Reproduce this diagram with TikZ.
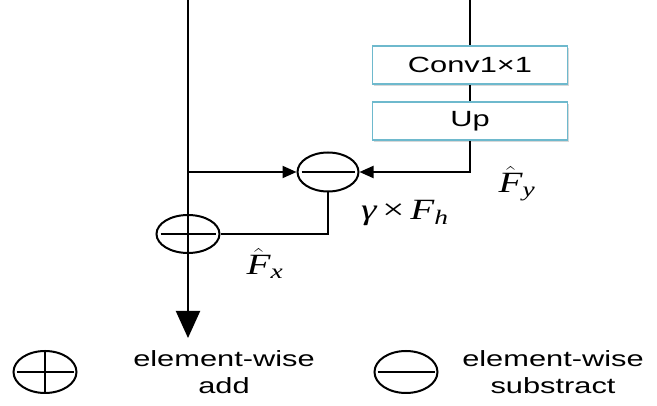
\documentclass[tikz,border=0pt]{standalone}
\usepackage{amsmath}
\usepackage{fontspec}
\setsansfont{Liberation Sans}
\newfontfamily\tmsfont{Liberation Serif}
\newcommand{\myit}[1]{\text{\tmsfont\itshape #1}}
\newcommand{\myup}[1]{\text{\tmsfont #1}}
\usetikzlibrary{arrows.meta,shapes.geometric,shadows}
\definecolor{boxline}{RGB}{110,185,205}
\tikzset{
  conn/.style={line width=2pt, draw=black},
  smallarr/.style={-{Triangle[length=14pt,width=12pt]}},
  bigarr/.style={-{Triangle[length=27pt,width=24pt]}},
  opbox/.style={draw=boxline, line width=1.8pt, fill=white, minimum width=195pt, minimum height=38pt,
     inner sep=0pt, font=\sffamily\fontsize{22}{24}\selectfont,
     drop shadow={shadow xshift=1.5pt, shadow yshift=-2.5pt, fill=black!30}},
  opnode/.style={ellipse, draw, line width=2pt, fill=white, inner sep=0pt},
  legtxt/.style={font=\sffamily\fontsize{22}{27}\selectfont, align=center, xscale=1.4},
  mathtxt/.style={font=\fontsize{28}{32}\selectfont, xscale=1.4, yscale=1.05}
}
\begin{document}
\begin{tikzpicture}[x=1pt,y=-1pt]
\useasboundingbox (0,0) rectangle (657,406);
% coordinates
\coordinate (topL) at (188,0);
\coordinate (split) at (188,172);
\coordinate (bot) at (188,338);
\coordinate (topR) at (470,0);
\coordinate (cornerR) at (470,172);
% boxes
\node[opbox] (conv) at (470,65) {\scalebox{1.4}[1]{Conv1×1}};
\node[opbox] (up) at (470,121) {\scalebox{1.4}[1]{Up}};
% operators
\node[opnode, minimum width=61pt, minimum height=39pt] (minus) at (328,172) {};
\node[opnode, minimum width=63pt, minimum height=38pt] (plus) at (188,234) {};
\draw[conn] ([xshift=5pt]minus.west) -- ([xshift=-5pt]minus.east);
\draw[conn] ([xshift=5pt]plus.west) -- ([xshift=-5pt]plus.east);
\draw[conn] (plus.north) -- (plus.south);
% connectors
\draw[conn] (topL) -- (plus.north);
\draw[conn, bigarr] (plus.south) -- (bot);
\draw[conn, smallarr] (split) -- (minus.west);
\draw[conn] (topR) -- (conv.north);
\draw[conn] (conv.south) -- (up.north);
\draw[conn, smallarr] (up.south) -- (cornerR) -- (minus.east);
\draw[conn] (minus.south) |- (plus.east);
% labels
\node[mathtxt] (fy) at (517,184) {$\hat{\myit{F}}_{\myit{y}}$};
\node[mathtxt] (gf) at (405,213) {$\myit{γ}\,\myup{×}\,\myit{F}_{\myit{h}}$};
\node[mathtxt] (fx) at (265,263) {$\hat{\myit{F}}_{\myit{x}}$};
% legend
\node[opnode, minimum width=63pt, minimum height=42pt] (lplus) at (45,372) {};
\draw[conn] ([xshift=4pt]lplus.west) -- ([xshift=-4pt]lplus.east);
\draw[conn] (lplus.north) -- (lplus.south);
\node[legtxt] (laddtxt) at (224,372) {element-wise\\add};
\node[opnode, minimum width=63pt, minimum height=42pt] (lminus) at (406,372) {};
\draw[conn] ([xshift=4pt]lminus.west) -- ([xshift=-4pt]lminus.east);
\node[legtxt] (lsubtxt) at (553,372) {element-wise\\substract};
\end{tikzpicture}
\end{document}
